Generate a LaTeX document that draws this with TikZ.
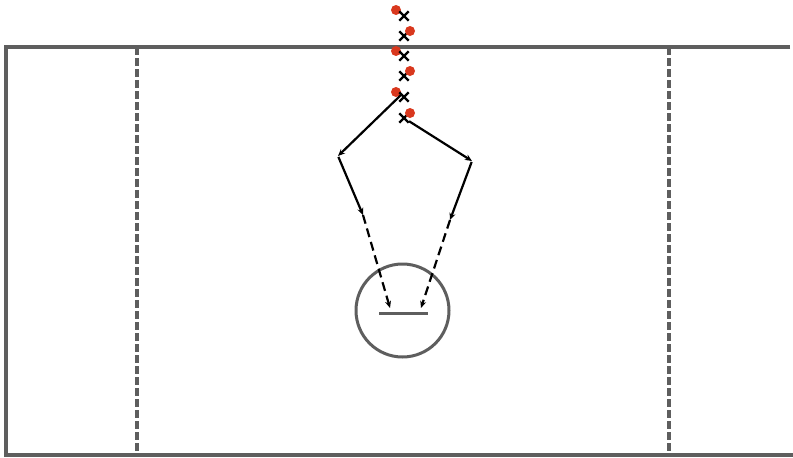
\documentclass[tikz,border=0pt]{standalone}
\usetikzlibrary{arrows.meta,shapes.misc}
\definecolor{fieldgray}{HTML}{5E5E5E}
\definecolor{ballred}{HTML}{D9381E}
\tikzset{
  fieldline/.style={draw=fieldgray,line width=3.4pt},
  restraining/.style={draw=fieldgray,line width=3.2pt,dash pattern=on 7.5pt off 3.5pt},
  ballcarrier/.style={circle,fill=ballred,inner sep=0pt,minimum size=10pt},
  attacker/.style={cross out,draw=black,line width=2.4pt,inner sep=0pt,minimum size=7pt},
  tip/.style={-{Stealth[length=7pt,width=6pt]}},
  run/.style={tip,line width=2.2pt,black},
  pass/.style={tip,line width=2.2pt,black,dash pattern=on 9pt off 5pt},
}
\begin{document}
\begin{tikzpicture}[x=1pt,y=-1pt]
\useasboundingbox (0,0) rectangle (793,458);
% field boundary
\coordinate (tl) at (6,47);
\coordinate (tr) at (790,47);
\coordinate (bl) at (6,455);
\coordinate (br) at (793,455);
\draw[fieldline] (tr) -- (tl) -- (bl) -- (br);
% restraining lines
\coordinate (ra1) at (137,47);
\coordinate (ra2) at (137,455);
\coordinate (rb1) at (669,47);
\coordinate (rb2) at (669,455);
\draw[restraining] (ra1) -- (ra2);
\draw[restraining] (rb1) -- (rb2);
% crease and goal
\node[circle,draw=fieldgray,line width=3pt,minimum size=93pt,inner sep=0pt] (crease) at (402.5,310.5) {};
\coordinate (g1) at (379,313);
\coordinate (g2) at (428,313);
\draw[fieldline,line width=3pt] (g1) -- (g2);
% line of players
\node[ballcarrier] (b1) at (396,10) {};
\node[attacker] (x1) at (404,16) {};
\node[attacker] (x2) at (404,36) {};
\node[ballcarrier] (b2) at (410,31) {};
\node[ballcarrier] (b3) at (396,51) {};
\node[attacker] (x3) at (404,56) {};
\node[attacker] (x4) at (404,76) {};
\node[ballcarrier] (b4) at (410,71) {};
\node[ballcarrier] (b5) at (396,92) {};
\node[attacker] (x5) at (404,97) {};
\node[attacker] (x6) at (404,118) {};
\node[ballcarrier] (b6) at (410,113) {};
% cuts and passes
\coordinate (cl) at (338,156);
\coordinate (cr) at (472,161);
\coordinate (ml) at (363,215);
\coordinate (mr) at (450,220);
\coordinate (el) at (390,308);
\coordinate (er) at (421,308);
\draw[run] ([xshift=-2pt,yshift=3pt]x5.center) -- (cl);
\draw[run,shorten <=1pt] (cl) -- (ml);
\draw[pass] (ml) -- (el);
\draw[run,shorten <=6pt] (x6.center) -- (cr);
\draw[run,shorten <=1pt] (cr) -- (mr);
\draw[pass] (mr) -- (er);
\end{tikzpicture}
\end{document}
